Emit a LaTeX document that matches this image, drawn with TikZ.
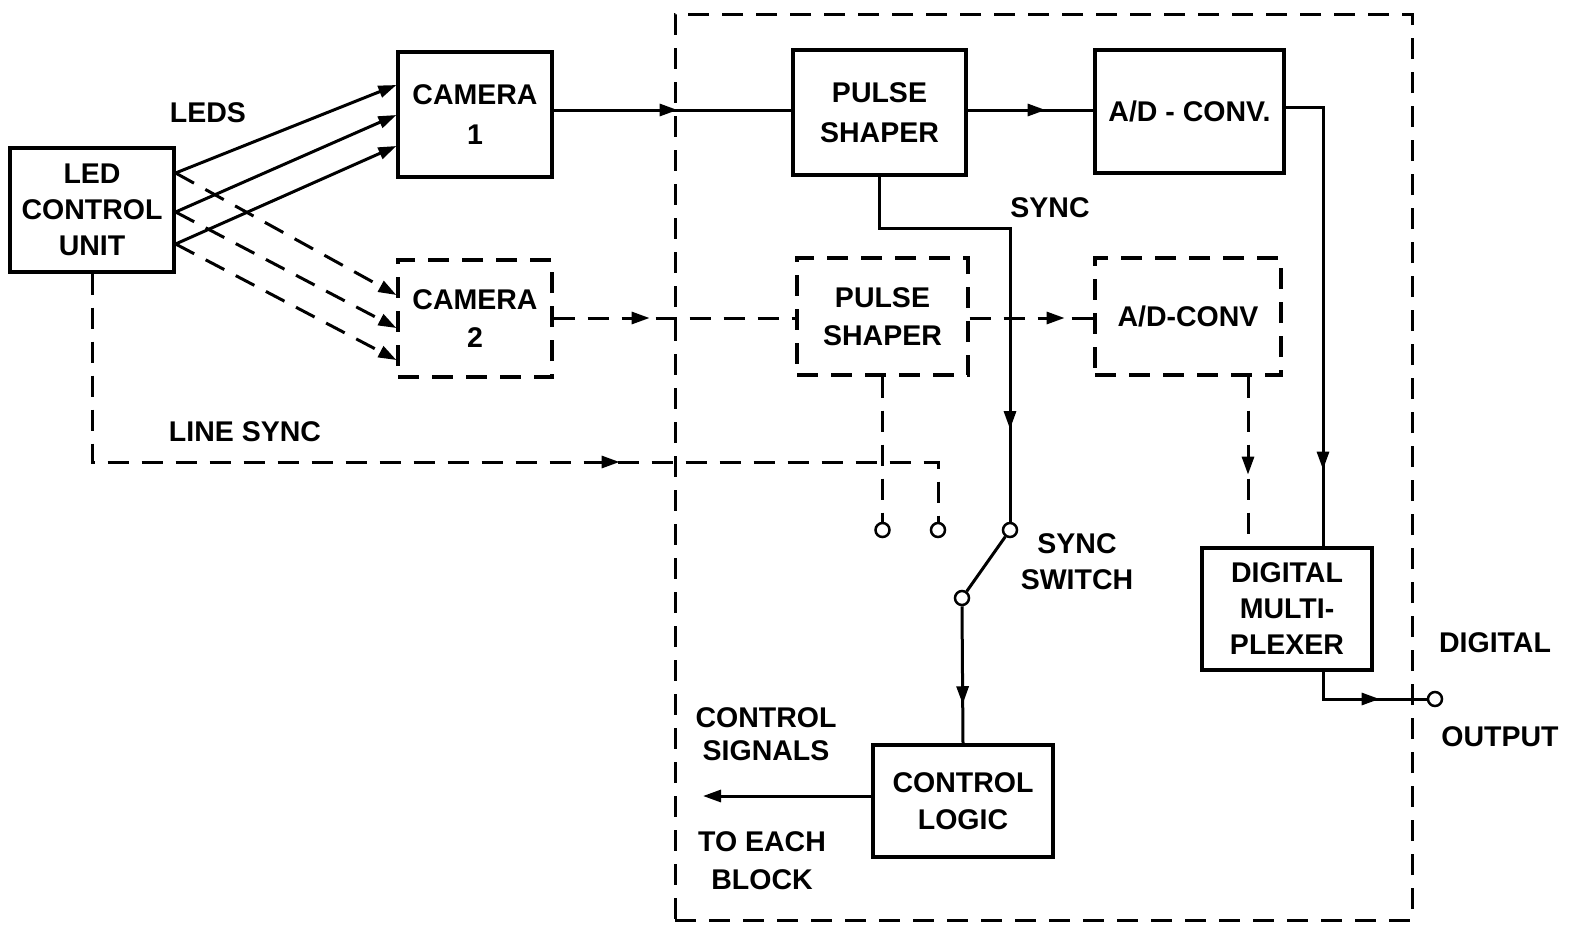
\documentclass[tikz,border=0pt]{standalone}
\usepackage{fontspec}
\setmainfont{Liberation Sans}
\usetikzlibrary{arrows.meta,decorations.markings,calc}
\begin{document}
\begin{tikzpicture}[x=1pt,y=-1pt,
  line width=3pt,
  >={Triangle[length=18pt,width=12pt]},
  every node/.style={font=\fontsize{28.5}{36}\selectfont\bfseries, align=center, inner sep=0pt},
  dsh/.style={dash pattern=on 21pt off 13pt},
  box/.style n args={2}{draw, line width=3.2pt, minimum width=#1, minimum height=#2},
  dbox/.style n args={2}{box={#1}{#2}, dsh},
  term/.style={circle, draw, fill=white, line width=2.5pt, minimum size=14pt, inner sep=0pt},
  lbl/.style={},
  midarrow/.style={postaction={decorate,decoration={markings,mark=at position #1 with {\arrow{>}}}}}
]
\useasboundingbox (0,0) rectangle (1572,927);

% outer system boundary
\node[draw, dsh, line width=3pt, minimum width=737pt, minimum height=906pt] (sys) at (1043.5,467) {};

% blocks
\node[box={164pt}{124pt}] (led) at (92,210) {LED\\CONTROL\\UNIT};
\node[box={154pt}{125pt}] (cam1) at (475,114.5) {CAMERA\\[4pt]1};
\node[dbox={154pt}{117pt}] (cam2) at (475,318.5) {CAMERA\\[2pt]2};
\node[box={173pt}{125pt}] (ps1) at (879.5,112.5) {PULSE\\[4pt]SHAPER};
\node[box={189pt}{123pt}] (adc1) at (1189.5,111.5) {A/D - CONV.};
\node[dbox={171pt}{117pt}] (ps2) at (882.5,316.5) {PULSE\\[2pt]SHAPER};
\node[dbox={186pt}{117pt}] (adc2) at (1188,316.5) {A/D-CONV};
\node[box={170pt}{122pt}] (mux) at (1287,609) {DIGITAL\\MULTI-\\PLEXER};
\node[box={180pt}{112pt}] (cl) at (963,801) {CONTROL\\[1pt]LOGIC};

% terminals
\node[term] (c1) at (882.5,530) {};
\node[term] (c2) at (938,530) {};
\node[term] (sw1) at (1010,530) {};
\node[term] (sw2) at (962,598) {};
\node[term] (out) at (1435,699) {};
\coordinate (cs) at (703,796);

% labels
\node[lbl] (leds) at (208,113) {LEDS};
\node[lbl] (linesync) at (245,432) {LINE SYNC};
\node[lbl] (sync) at (1050,208) {SYNC};
\node[lbl] (syncsw) at (1077,562) {SYNC\\SWITCH};
\node[lbl] (ctrlsig) at (766,734) {CONTROL\\[-3pt]SIGNALS};
\node[lbl] (toeach) at (762,861) {TO EACH\\[2pt]BLOCK};
\node[lbl] (dig) at (1495,643) {DIGITAL};
\node[lbl] (outp) at (1500,737) {OUTPUT};

% LED -> camera 1 (solid)
\draw[->] (led.east |- 0,173) -- (cam1.west |- 0,85);
\draw[->] (led.east |- 0,212) -- (cam1.west |- 0,115);
\draw[->] (led.east |- 0,244) -- (cam1.west |- 0,146);
% LED -> camera 2 (dashed)
\draw[->, dsh] (led.east |- 0,173) -- (cam2.west |- 0,295);
\draw[->, dsh] (led.east |- 0,212) -- (cam2.west |- 0,328);
\draw[->, dsh] (led.east |- 0,244) -- (cam2.west |- 0,360);

% channel 1
\draw[midarrow=124pt] (cam1.east |- 0,110) -- (ps1.west |- 0,110);
\draw[midarrow=78pt] (ps1.east |- 0,110) -- (adc1.west |- 0,110);
\draw[midarrow=400pt] (adc1.east |- 0,107) -| (1323,0 |- mux.north);

% channel 2
\draw[dsh, midarrow=96pt] (cam2.east |- 0,318) -- (ps2.west |- 0,318);
\draw[dsh, midarrow=95pt] (ps2.east |- 0,318) -- (adc2.west |- 0,318);
\draw[dsh, midarrow=98pt] (1248,0 |- adc2.south) -- (1248,0 |- mux.north);
\draw[dsh] (ps2.south) -- (c1.north);

% sync path
\draw[midarrow=383pt] (ps1.south) |- (1010,228) -- (sw1.north);
\draw[line width=3pt] (sw1) -- (sw2);
\draw[midarrow=98pt] (sw2.south) -- (cl.north);
\draw[->] (cl.west |- 0,796) -- (cs);

% line sync
\draw[dsh, midarrow=716pt] (led.south) |- (938,462) -- (c2.north);

% output
\draw[midarrow=84pt] (1323,0 |- mux.south) |- (out.west);
\end{tikzpicture}
\end{document}
